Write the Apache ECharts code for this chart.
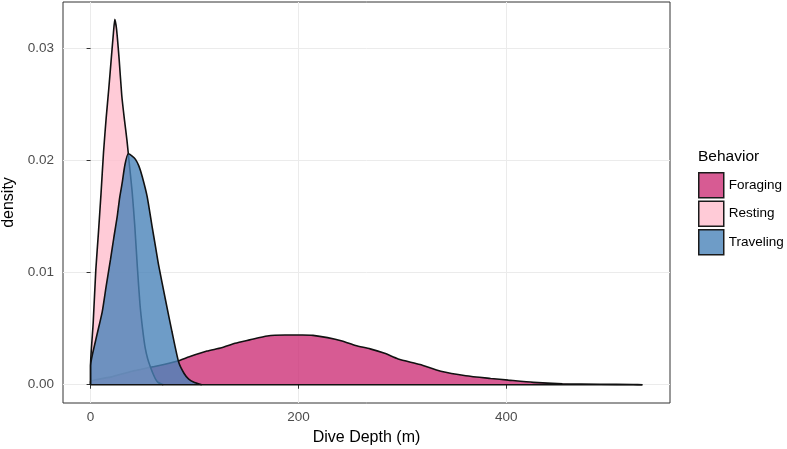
<!DOCTYPE html>
<html>
<head>
<meta charset="utf-8">
<script src="https://cdn.jsdelivr.net/npm/echarts@6/dist/echarts.min.js"></script>
<style>
  html, body { margin: 0; padding: 0; background: #fff; }
  #main { width: 787px; height: 449px; }
</style>
</head>
<body>
<div id="main"></div>
<script>
// 数据
var behaviors = ['Foraging', 'Resting', 'Traveling'];

var foragingX = [0, 0, 20, 40, 60, 83, 95, 112, 126, 139, 153, 170, 187, 204, 214, 228, 242, 255, 269, 283, 296, 317, 337, 361, 385, 402, 426, 454, 490, 522, 531, 531];
var foragingY = [0, 0.0003, 0.0007, 0.0012, 0.0016, 0.0021, 0.0025, 0.0030, 0.0033, 0.0037, 0.0040, 0.00435, 0.00443, 0.00443, 0.0044, 0.0042, 0.0039, 0.0035, 0.0032, 0.0028, 0.0023, 0.0018, 0.0012, 0.0008, 0.00056, 0.00041, 0.00021, 0.00009, 0.00004, 0.00002, 0, 0];

var restingX = [0, 0, 2.5, 5, 7.5, 10, 12.5, 15, 17.5, 20, 22, 23.3, 25, 27.5, 30, 32.5, 35, 37.5, 40, 42.5, 45, 47.5, 50, 52.5, 55, 57.5, 60, 62.5, 65, 70];
var restingY = [0, 0.0018, 0.0055, 0.0102, 0.0135, 0.0170, 0.0208, 0.0238, 0.0264, 0.0292, 0.0314, 0.0326, 0.0317, 0.0290, 0.0258, 0.0237, 0.0218, 0.0195, 0.0172, 0.0142, 0.0105, 0.0072, 0.0050, 0.0033, 0.0023, 0.0016, 0.0010, 0.0005, 0.0002, 0];

var travelingX = [0, 0, 5, 11.2, 15, 19.2, 22.5, 25.6, 28, 30.4, 33, 36.2, 40, 43.2, 46.5, 49.6, 54.4, 59.2, 62.5, 65.6, 72, 78.4, 84.8, 90, 94.4, 100, 107];
var travelingY = [0, 0.0017, 0.0040, 0.0065, 0.0088, 0.0112, 0.0132, 0.0150, 0.0167, 0.0180, 0.0196, 0.0206, 0.0204, 0.0201, 0.0195, 0.0186, 0.0168, 0.0141, 0.0123, 0.0106, 0.0076, 0.0047, 0.0020, 0.0010, 0.0005, 0.0002, 0];

var baselineX = [0, 531];

var xTicks = [0, 200, 400];
var yTicks = [0, 0.01, 0.02, 0.03];

var fills = ['rgba(205,50,120,0.8)', 'rgba(255,190,205,0.8)', 'rgba(74,131,185,0.8)'];

function pairs(xs, ys) {
    var out = [];
    for (var i = 0; i < xs.length; i++) {
        out.push([xs[i], ys[i]]);
    }
    return out;
}

var curves = [pairs(foragingX, foragingY), pairs(restingX, restingY), pairs(travelingX, travelingY)];

var myChart = echarts.init(document.getElementById('main'));

var seriesList = [];
for (var k = 0; k < behaviors.length; k++) {
    seriesList.push({
        name: behaviors[k],
        type: 'line',
        z: 3 + k,   // 每个密度曲线单独一层, 后画的盖住前面的轮廓线
        data: curves[k],
        showSymbol: false,
        symbol: 'none',
        smooth: 0.2,
        itemStyle: { color: fills[k] },
        lineStyle: { color: '#111', width: 1.6 },
        areaStyle: { color: fills[k], opacity: 1 },
        silent: true
    });
}
// 底线
seriesList.push({
    type: 'line',
    z: 10,
    data: [[baselineX[0], 0], [baselineX[1], 0]],
    symbol: 'none',
    lineStyle: { color: '#111', width: 1.6 },
    silent: true
});

var legendData = [];
for (var j = 0; j < behaviors.length; j++) {
    legendData.push({
        name: behaviors[j],
        icon: 'rect',
        itemStyle: { color: fills[j], borderColor: '#1a1a1a', borderWidth: 1.5 }
    });
}

var option = {
    animation: false,
    textStyle: { fontFamily: 'Liberation Sans, Arial, sans-serif' },
    title: {
        text: 'Behavior',
        left: 698,
        top: 149,
        padding: 0,
        textStyle: { fontSize: 15.5, fontWeight: 'normal', color: '#000', fontFamily: 'Liberation Sans, Arial, sans-serif' }
    },
    legend: {
        orient: 'vertical',
        left: 698,
        top: 172,
        padding: 0,
        itemWidth: 25,
        itemHeight: 25,
        itemGap: 2,
        selectedMode: false,
        textStyle: { fontSize: 13.5, color: '#000', padding: [0, 0, 0, 0], fontFamily: 'Liberation Sans, Arial, sans-serif' },
        data: legendData
    },
    grid: {
        left: 63,
        top: 2,
        right: 117,
        bottom: 46,
        show: true,
        borderColor: '#333',
        borderWidth: 1,
        containLabel: false,
        outerBoundsMode: 'none'
    },
    xAxis: {
        type: 'value',
        min: -26.55,
        max: 557.55,
        splitNumber: 5,
        name: 'Dive Depth (m)',
        nameLocation: 'middle',
        nameGap: 27,
        nameTextStyle: { fontSize: 16, color: '#000' },
        axisLine: { show: false },
        axisTick: { show: true, length: 4, customValues: xTicks, lineStyle: { color: '#333' } },
        axisLabel: { customValues: xTicks, fontSize: 13.5, color: '#4d4d4d', margin: 7 },
        splitLine: { show: true, lineStyle: { color: '#ebebeb', width: 1 } }
    },
    yAxis: {
        type: 'value',
        min: -0.00163,
        max: 0.03414,
        splitNumber: 8,
        name: 'density',
        nameLocation: 'middle',
        nameGap: 45,
        nameTextStyle: { fontSize: 16, color: '#000' },
        axisLine: { show: false },
        axisTick: { show: true, length: 4, customValues: yTicks, lineStyle: { color: '#333' } },
        axisLabel: {
            customValues: yTicks,
            fontSize: 13.5,
            color: '#4d4d4d',
            margin: 9,
            formatter: function (v) { return v.toFixed(2); }
        },
        splitLine: { show: true, lineStyle: { color: '#ebebeb', width: 1 } }
    },
    series: seriesList
};

myChart.setOption(option);
</script>
</body>
</html>
